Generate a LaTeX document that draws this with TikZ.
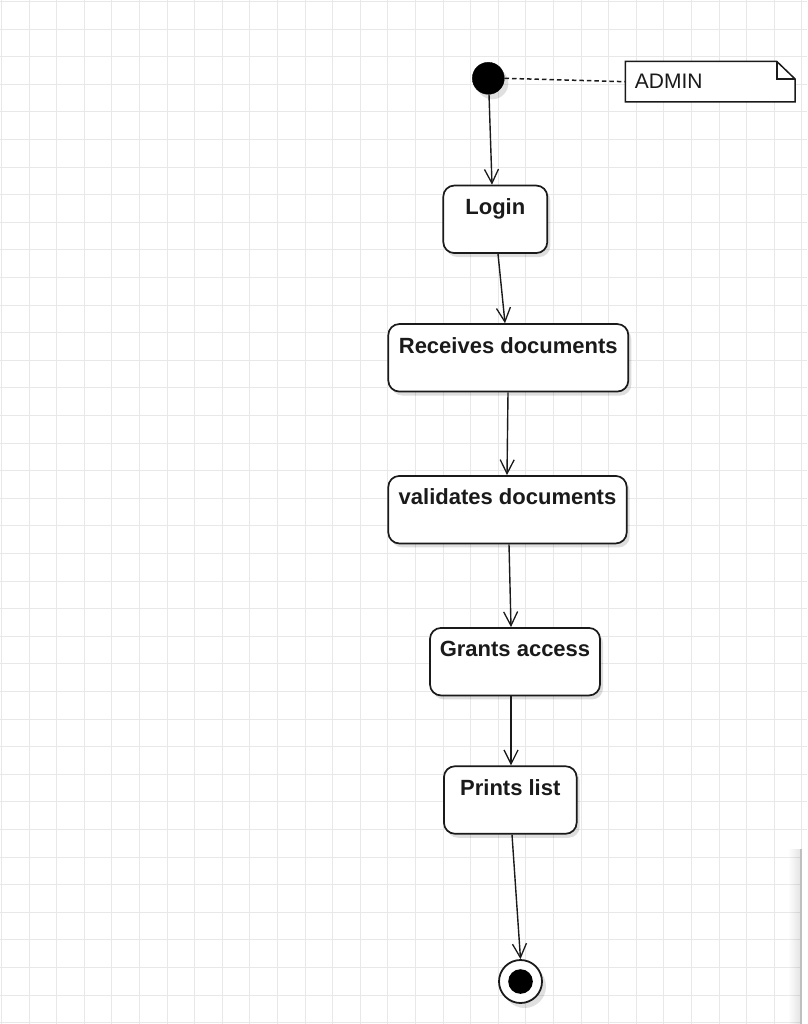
\documentclass[tikz,border=0pt]{standalone}
\usepackage{fontspec}
\setmainfont{Liberation Sans}
\usetikzlibrary{arrows.meta,shadows}
\definecolor{gridc}{HTML}{E8E8E8}
\definecolor{linec}{HTML}{1A1A1A}
\tikzset{
  gridline/.style={draw=gridc, line width=0.9pt},
  state/.style={draw=linec, line width=1.7pt, fill=white, rounded corners=11pt,
    inner sep=0pt, text height=29pt, text depth=38.5pt,
    font=\bfseries\fontsize{22}{26}\selectfont, text=linec,
    drop shadow={shadow xshift=3pt, shadow yshift=-4pt, opacity=0.13, fill=black}},
  flow/.style={draw=linec, line width=1.4pt, -{Straight Barb[length=14pt,width=14pt,line width=1.3pt]}},
  startdot/.style={circle, fill=black, draw=black, minimum size=32pt, inner sep=0pt,
    drop shadow={shadow xshift=4pt, shadow yshift=-5pt, opacity=0.12, fill=black}},
  endring/.style={circle, fill=white, draw=linec, line width=1.8pt, minimum size=43pt, inner sep=0pt,
    drop shadow={shadow xshift=4pt, shadow yshift=-5pt, opacity=0.12, fill=black}},
  enddot/.style={circle, fill=black, minimum size=24.6pt, inner sep=0pt},
  notebox/.style={minimum width=169.3pt, minimum height=40pt, inner sep=0pt},
  noteline/.style={draw=linec, line width=1.5pt},
  notetext/.style={font=\fontsize{21}{25}\selectfont, text=linec, inner sep=0pt},
  anchorline/.style={draw=linec, line width=1.5pt, dash pattern=on 4.5pt off 3pt}
}
\begin{document}
\begin{tikzpicture}[x=1pt,y=-1pt]
\useasboundingbox (0,0) rectangle (807,1024);
\fill[white] (0,0) rectangle (807,1024);
% grid
\foreach \i in {0,...,29} {
  \draw[gridline] ({1.5+27.6*\i},0) -- ({1.5+27.6*\i},1024);
}
\foreach \j in {0,...,37} {
  \draw[gridline] (0,{1.5+27.6*\j}) -- (807,{1.5+27.6*\j});
}
% right-edge panel with shadow
\shade[left color=white, right color=black, opacity=0.10] (788,849) rectangle (800,1024);
\fill[white] (800,849) rectangle (807,1024);
\draw[draw=black!25, line width=1.2pt] (801,849) -- (801,1024);

% nodes
\node[startdot] (start) at (488.3,78.3) {};
\node[notebox] (note) at (710.3,81.7) {};
\path[noteline, fill=white] (note.south west) -- (note.north west) -- ([xshift=-18.3pt]note.north east)
  -- ([yshift=-17.6pt]note.north east) -- (note.south east) -- cycle;
\draw[noteline] ([xshift=-18.3pt]note.north east) -- ([xshift=-18.3pt, yshift=-17.6pt]note.north east)
  -- ([yshift=-17.6pt]note.north east);
\node[notetext, anchor=base west] (admin) at ([xshift=9.3pt, yshift=-6.6pt]note.west) {ADMIN};

\node[state, minimum width=104pt] (login) at (495.3,219.3) {Login};
\node[state, minimum width=240pt] (recv) at (508.3,357.8) {Receives documents};
\node[state, minimum width=238.4pt] (valid) at (507.5,509.7) {validates documents};
\node[state, minimum width=170pt] (grant) at (515,661.7) {Grants access};
\node[state, minimum width=132.7pt] (prints) at (510.3,800) {Prints list};
\node[endring] (final) at (520.5,981.5) {};
\node[enddot] (finaldot) at (final.center) {};

% connectors
\draw[anchorline] (start.east) -- (note.west);
\draw[flow] ([xshift=0.7pt]start.south) -- ([xshift=-3.3pt]login.north);
\draw[flow] ([xshift=2.7pt]login.south) -- ([xshift=-3.3pt]recv.north);
\draw[flow] ([xshift=-0.3pt]recv.south) -- ([xshift=-0.5pt]valid.north);
\draw[flow] ([xshift=1.5pt]valid.south) -- ([xshift=-4pt]grant.north);
\draw[flow] ([xshift=-4pt]grant.south) -- ([xshift=0.7pt]prints.north);
\draw[flow] ([xshift=1.7pt]prints.south) -- (final.north);
\end{tikzpicture}
\end{document}
